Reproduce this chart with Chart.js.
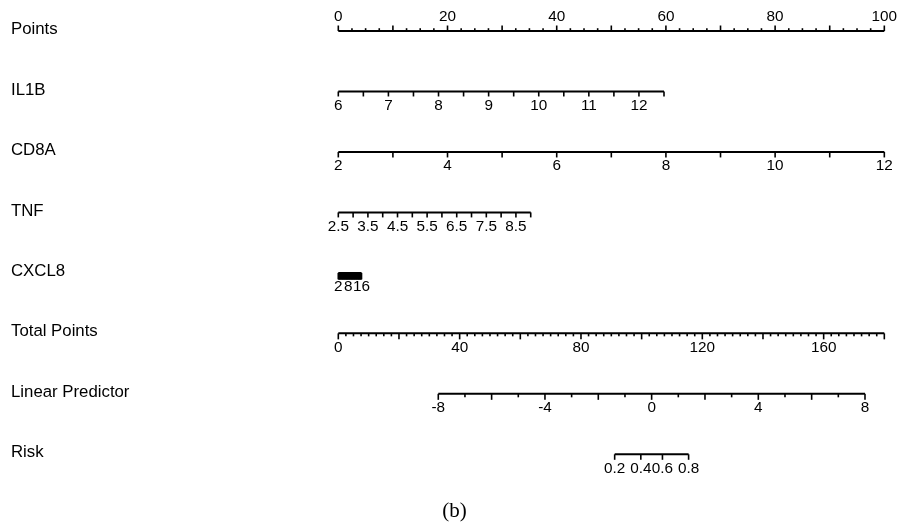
<!DOCTYPE html>
<html>
<head>
<meta charset="utf-8">
<script src="https://cdn.jsdelivr.net/npm/chart.js@4/dist/chart.umd.min.js"></script>
<style>
  html, body { margin: 0; padding: 0; background: #fff; }
  #wrap { width: 909px; height: 525px; }
</style>
</head>
<body>
<div id="wrap"><canvas id="nomogram" width="909" height="525"></canvas></div>
<script>
// Nomogram rows (top to bottom)
const rowNames = ['Points', 'IL1B', 'CD8A', 'TNF', 'CXCL8', 'Total Points', 'Linear Predictor', 'Risk'];

// tick labels per row
const pointsLabels = [0, 20, 40, 60, 80, 100];
const il1bLabels = [6, 7, 8, 9, 10, 11, 12];
const cd8aLabels = [2, 4, 6, 8, 10, 12];
const tnfLabels = [2.5, 3.5, 4.5, 5.5, 6.5, 7.5, 8.5];
const cxcl8Labels = [2, 8, 16];
const totalLabels = [0, 40, 80, 120, 160];
const lpLabels = [-8, -4, 0, 4, 8];
const riskLabels = [0.2, 0.4, 0.6, 0.8];

// value range of each variable and the points it covers
const pointsRange = [0, 100];
const il1bRange = [6, 12.5];
const il1bPoints = [0, 59.65];
const cd8aRange = [2, 12];
const cd8aPoints = [0, 100];
const tnfRange = [2.5, 9];
const tnfPoints = [0, 35.24];
const cxcl8Range = [2, 16];
const cxcl8Points = [0, 4.25];
const totalRange = [0, 180];
const totalPoints = [0, 100];
const lpRange = [-8, 8];
const lpPoints = [18.31, 96.46];

const black = '#000';
const fontFamily = '"Liberation Sans", Arial, Helvetica, sans-serif';

function linMap(range, pts) {
    return v => pts[0] + (v - range[0]) * (pts[1] - pts[0]) / (range[1] - range[0]);
}
const lpToPoints = linMap(lpRange, lpPoints);
const logit = p => Math.log(p / (1 - p));

function steps(from, to, step) {
    const out = [];
    for (let v = from; v <= to + 1e-9; v += step) out.push(Math.round(v * 1000) / 1000);
    return out;
}

// axis description per row
const rows = [
    { toPts: v => v, range: pointsRange, step: 2.5, major: 10, labels: pointsLabels, up: true, len: [2.8, 5.5] },
    { toPts: linMap(il1bRange, il1bPoints), range: il1bRange, step: 0.5, labels: il1bLabels, len: [5, 5] },
    { toPts: linMap(cd8aRange, cd8aPoints), range: cd8aRange, step: 1, labels: cd8aLabels, len: [5.5, 5.5] },
    { toPts: linMap(tnfRange, tnfPoints), range: tnfRange, step: 0.5, labels: tnfLabels, len: [5, 5] },
    { toPts: linMap(cxcl8Range, cxcl8Points), range: cxcl8Range, step: 0.25, labels: cxcl8Labels, len: [6.5, 6.5] },
    { toPts: linMap(totalRange, totalPoints), range: totalRange, step: 2.5, major: 20, labels: totalLabels, len: [3, 6] },
    { toPts: lpToPoints, range: lpRange, step: 1, major: 2, labels: lpLabels, len: [3.5, 6] },
    { toPts: p => lpToPoints(logit(p)), range: [riskLabels[0], riskLabels[riskLabels.length - 1]], tickList: riskLabels, labels: riskLabels, len: [5.5, 5.5] }
];

// main axis lines as datasets
const datasets = rows.map((r, i) => ({
    data: [
        { x: r.toPts(r.range[0]), y: i },
        { x: r.toPts(r.range[1]), y: i }
    ],
    borderColor: black,
    borderWidth: 2,
    pointRadius: 0,
    fill: false
}));

// row names, ticks and tick labels, placed through the chart's scales
const ticksPlugin = {
    id: 'nomoTicks',
    afterDatasetsDraw(chart) {
        const { ctx, scales: { x, y } } = chart;
        ctx.save();
        ctx.strokeStyle = black;
        ctx.fillStyle = black;
        ctx.lineWidth = 1.6;
        ctx.textBaseline = 'middle';
        rows.forEach((r, i) => {
            const yp = y.getPixelForValue(i);
            const dir = r.up ? -1 : 1;

            // row name at the left edge
            ctx.font = '16.8px ' + fontFamily;
            ctx.textAlign = 'left';
            ctx.fillText(rowNames[i], 11, yp - 1.5);

            const list = r.tickList || steps(r.range[0], r.range[1], r.step);
            list.forEach(v => {
                const xp = x.getPixelForValue(r.toPts(v));
                const isMajor = r.major ? Math.abs(v / r.major - Math.round(v / r.major)) < 1e-6 : true;
                const len = isMajor ? r.len[1] : r.len[0];
                ctx.beginPath();
                ctx.moveTo(xp, yp);
                ctx.lineTo(xp, yp + dir * len);
                ctx.stroke();
            });

            ctx.font = '15.3px ' + fontFamily;
            ctx.textAlign = 'center';
            r.labels.forEach(v => {
                const xp = x.getPixelForValue(r.toPts(v));
                ctx.fillText(String(v), xp, yp + dir * 14);
            });
        });
        ctx.restore();
    }
};

new Chart(document.getElementById('nomogram'), {
    type: 'line',
    data: { datasets: datasets },
    options: {
        responsive: false,
        animation: false,
        devicePixelRatio: 1,
        layout: { padding: 0 },
        plugins: {
            legend: { display: false },
            tooltip: { enabled: false },
            title: {
                display: true,
                text: '(b)',
                position: 'bottom',
                color: black,
                font: { family: '"Liberation Serif", "Times New Roman", serif', size: 21, weight: 'normal', lineHeight: 1.2 },
                padding: { top: 15.2, bottom: 1.4 }
            }
        },
        scales: {
            // points scale; 0 sits at the start of the Points axis
            x: { type: 'linear', min: -61.96, max: 104.52, display: false },
            y: { type: 'linear', reverse: true, min: -0.5127, max: 7.478, display: false }
        }
    },
    plugins: [ticksPlugin]
});
</script>
</body>
</html>
